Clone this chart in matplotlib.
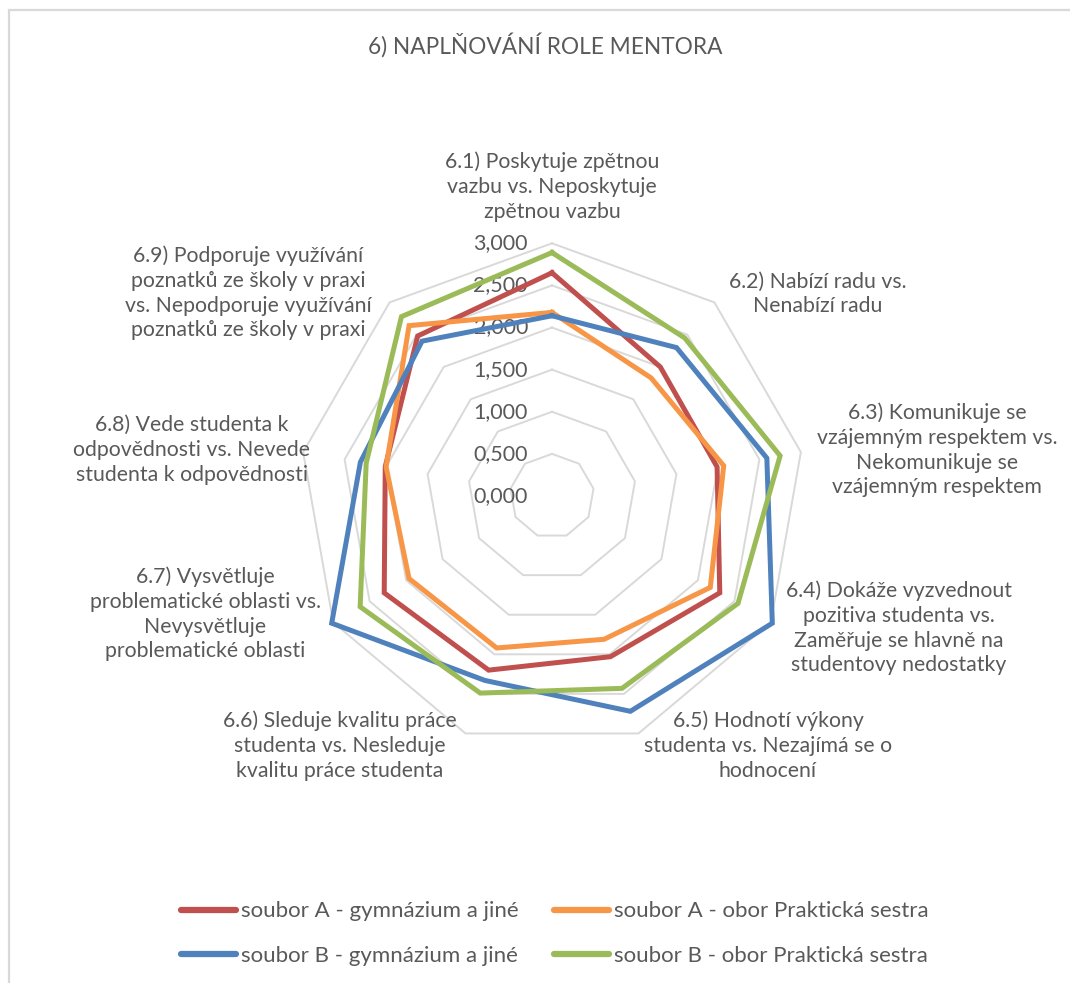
import numpy as np
import matplotlib
matplotlib.use("Agg")
import matplotlib.pyplot as plt
import matplotlib.transforms as mtransforms
from matplotlib.patches import Rectangle

plt.rcParams['font.family'] = ['Lato', 'DejaVu Sans']

title = "6) NAPLŇOVÁNÍ ROLE MENTORA"
categories = [
    "6.1) Poskytuje zpětnou\nvazbu vs. Neposkytuje\nzpětnou vazbu",
    "6.2) Nabízí radu vs.\nNenabízí radu",
    "6.3) Komunikuje se\nvzájemným respektem vs.\nNekomunikuje se\nvzájemným respektem",
    "6.4) Dokáže vyzvednout\npozitiva studenta vs.\nZaměřuje se hlavně na\nstudentovy nedostatky",
    "6.5) Hodnotí výkony\nstudenta vs. Nezajímá se o\nhodnocení",
    "6.6) Sleduje kvalitu práce\nstudenta vs. Nesleduje\nkvalitu práce studenta",
    "6.7) Vysvětluje\nproblematické oblasti vs.\nNevysvětluje\nproblematické oblasti",
    "6.8) Vede studenta k\nodpovědnosti vs. Nevede\nstudenta k odpovědnosti",
    "6.9) Podporuje využívání\npoznatků ze školy v praxi\nvs. Nepodporuje využívání\npoznatků ze školy v praxi",
]
series_names = [
    "soubor A - gymnázium a jiné",
    "soubor A - obor Praktická sestra",
    "soubor B - gymnázium a jiné",
    "soubor B - obor Praktická sestra",
]
a_gym = [2.65, 2.00, 1.99, 2.30, 2.03, 2.20, 2.30, 2.01, 2.48]
a_ps = [2.18, 1.83, 2.07, 2.17, 1.81, 1.92, 1.96, 2.00, 2.64]
b_gym = [2.14, 2.30, 2.59, 3.02, 2.72, 2.33, 3.02, 2.31, 2.40]
b_ps = [2.89, 2.45, 2.75, 2.55, 2.43, 2.49, 2.63, 2.24, 2.78]
r_ticks = [0.0, 0.5, 1.0, 1.5, 2.0, 2.5, 3.0]
r_tick_labels = ["0,000", "0,500", "1,000", "1,500", "2,000", "2,500", "3,000"]

colors = ["#C0504D", "#F79646", "#4F81BD", "#9BBB59"]
text_color = "#595959"
grid_color = "#D9D9D9"

W, H = 1070, 983
fig = plt.figure(figsize=(W / 100, H / 100), dpi=100)

# chart border
fig.patches.append(Rectangle((9 / W, -0.05), 1.2, 1 - 9.5 / H + 0.05,
                             transform=fig.transFigure, fill=False,
                             edgecolor=grid_color, linewidth=1.6))

cx, cy, R = 552, 496, 252.7
ax = fig.add_axes([(cx - R) / W, (H - cy - R) / H, 2 * R / W, 2 * R / H],
                  projection='polar')
ax.set_theta_zero_location('N')
ax.set_theta_direction(-1)
ax.set_ylim(0, 3.0)
ax.set_xticks([])
ax.set_yticks([])
ax.grid(False)
ax.spines['polar'].set_visible(False)
ax.patch.set_alpha(0)

n = len(categories)
theta = np.arange(n) * 2 * np.pi / n
theta_c = np.append(theta, theta[0])

for r in r_ticks[1:]:
    ax.plot(theta_c, [r] * (n + 1), color=grid_color, lw=1.4, zorder=1,
            clip_on=False)

series = [a_gym, a_ps, b_gym, b_ps]
lines = []
for vals, name, c in zip(series, series_names, colors):
    v = list(vals) + [vals[0]]
    ln, = ax.plot(theta_c, v, color=c, lw=3.6, label=name, zorder=3,
                  clip_on=False, solid_joinstyle='miter')
    lines.append(ln)

offset = mtransforms.ScaledTranslation(-24 / 100, 0, fig.dpi_scale_trans)
for r, lab in zip(r_ticks, r_tick_labels):
    ax.text(0, r, lab, transform=ax.transData + offset, ha='right',
            va='center', fontsize=15.5, color=text_color, zorder=2)

label_centers = [(552, 187), (818, 294), (937, 450), (899, 628), (768, 746),
                 (340, 746), (205, 614), (192, 450), (248, 293)]
for lab, (x, y) in zip(categories, label_centers):
    fig.text(x / W, 1 - y / H, lab, ha='center', va='center',
             multialignment='center', fontsize=15.3, color=text_color,
             linespacing=1.3)

fig.text(545 / W, 1 - 45 / H, title, ha='center', va='center', fontsize=16.3,
         color=text_color)

# row-major legend order (matplotlib fills columns first)
order = [0, 2, 1, 3]
leg = fig.legend([lines[i] for i in order], [series_names[i] for i in order],
                 loc='center', ncol=2,
                 bbox_to_anchor=(554.5 / W, 1 - 933.5 / H), frameon=False,
                 fontsize=16, labelcolor=text_color, handlelength=2.5,
                 handletextpad=0.2, columnspacing=1.6, labelspacing=1.1)
for line in leg.get_lines():
    line.set_linewidth(4.5)
    line.set_solid_capstyle('round')

fig.savefig("out.png", dpi=100, facecolor='white')
